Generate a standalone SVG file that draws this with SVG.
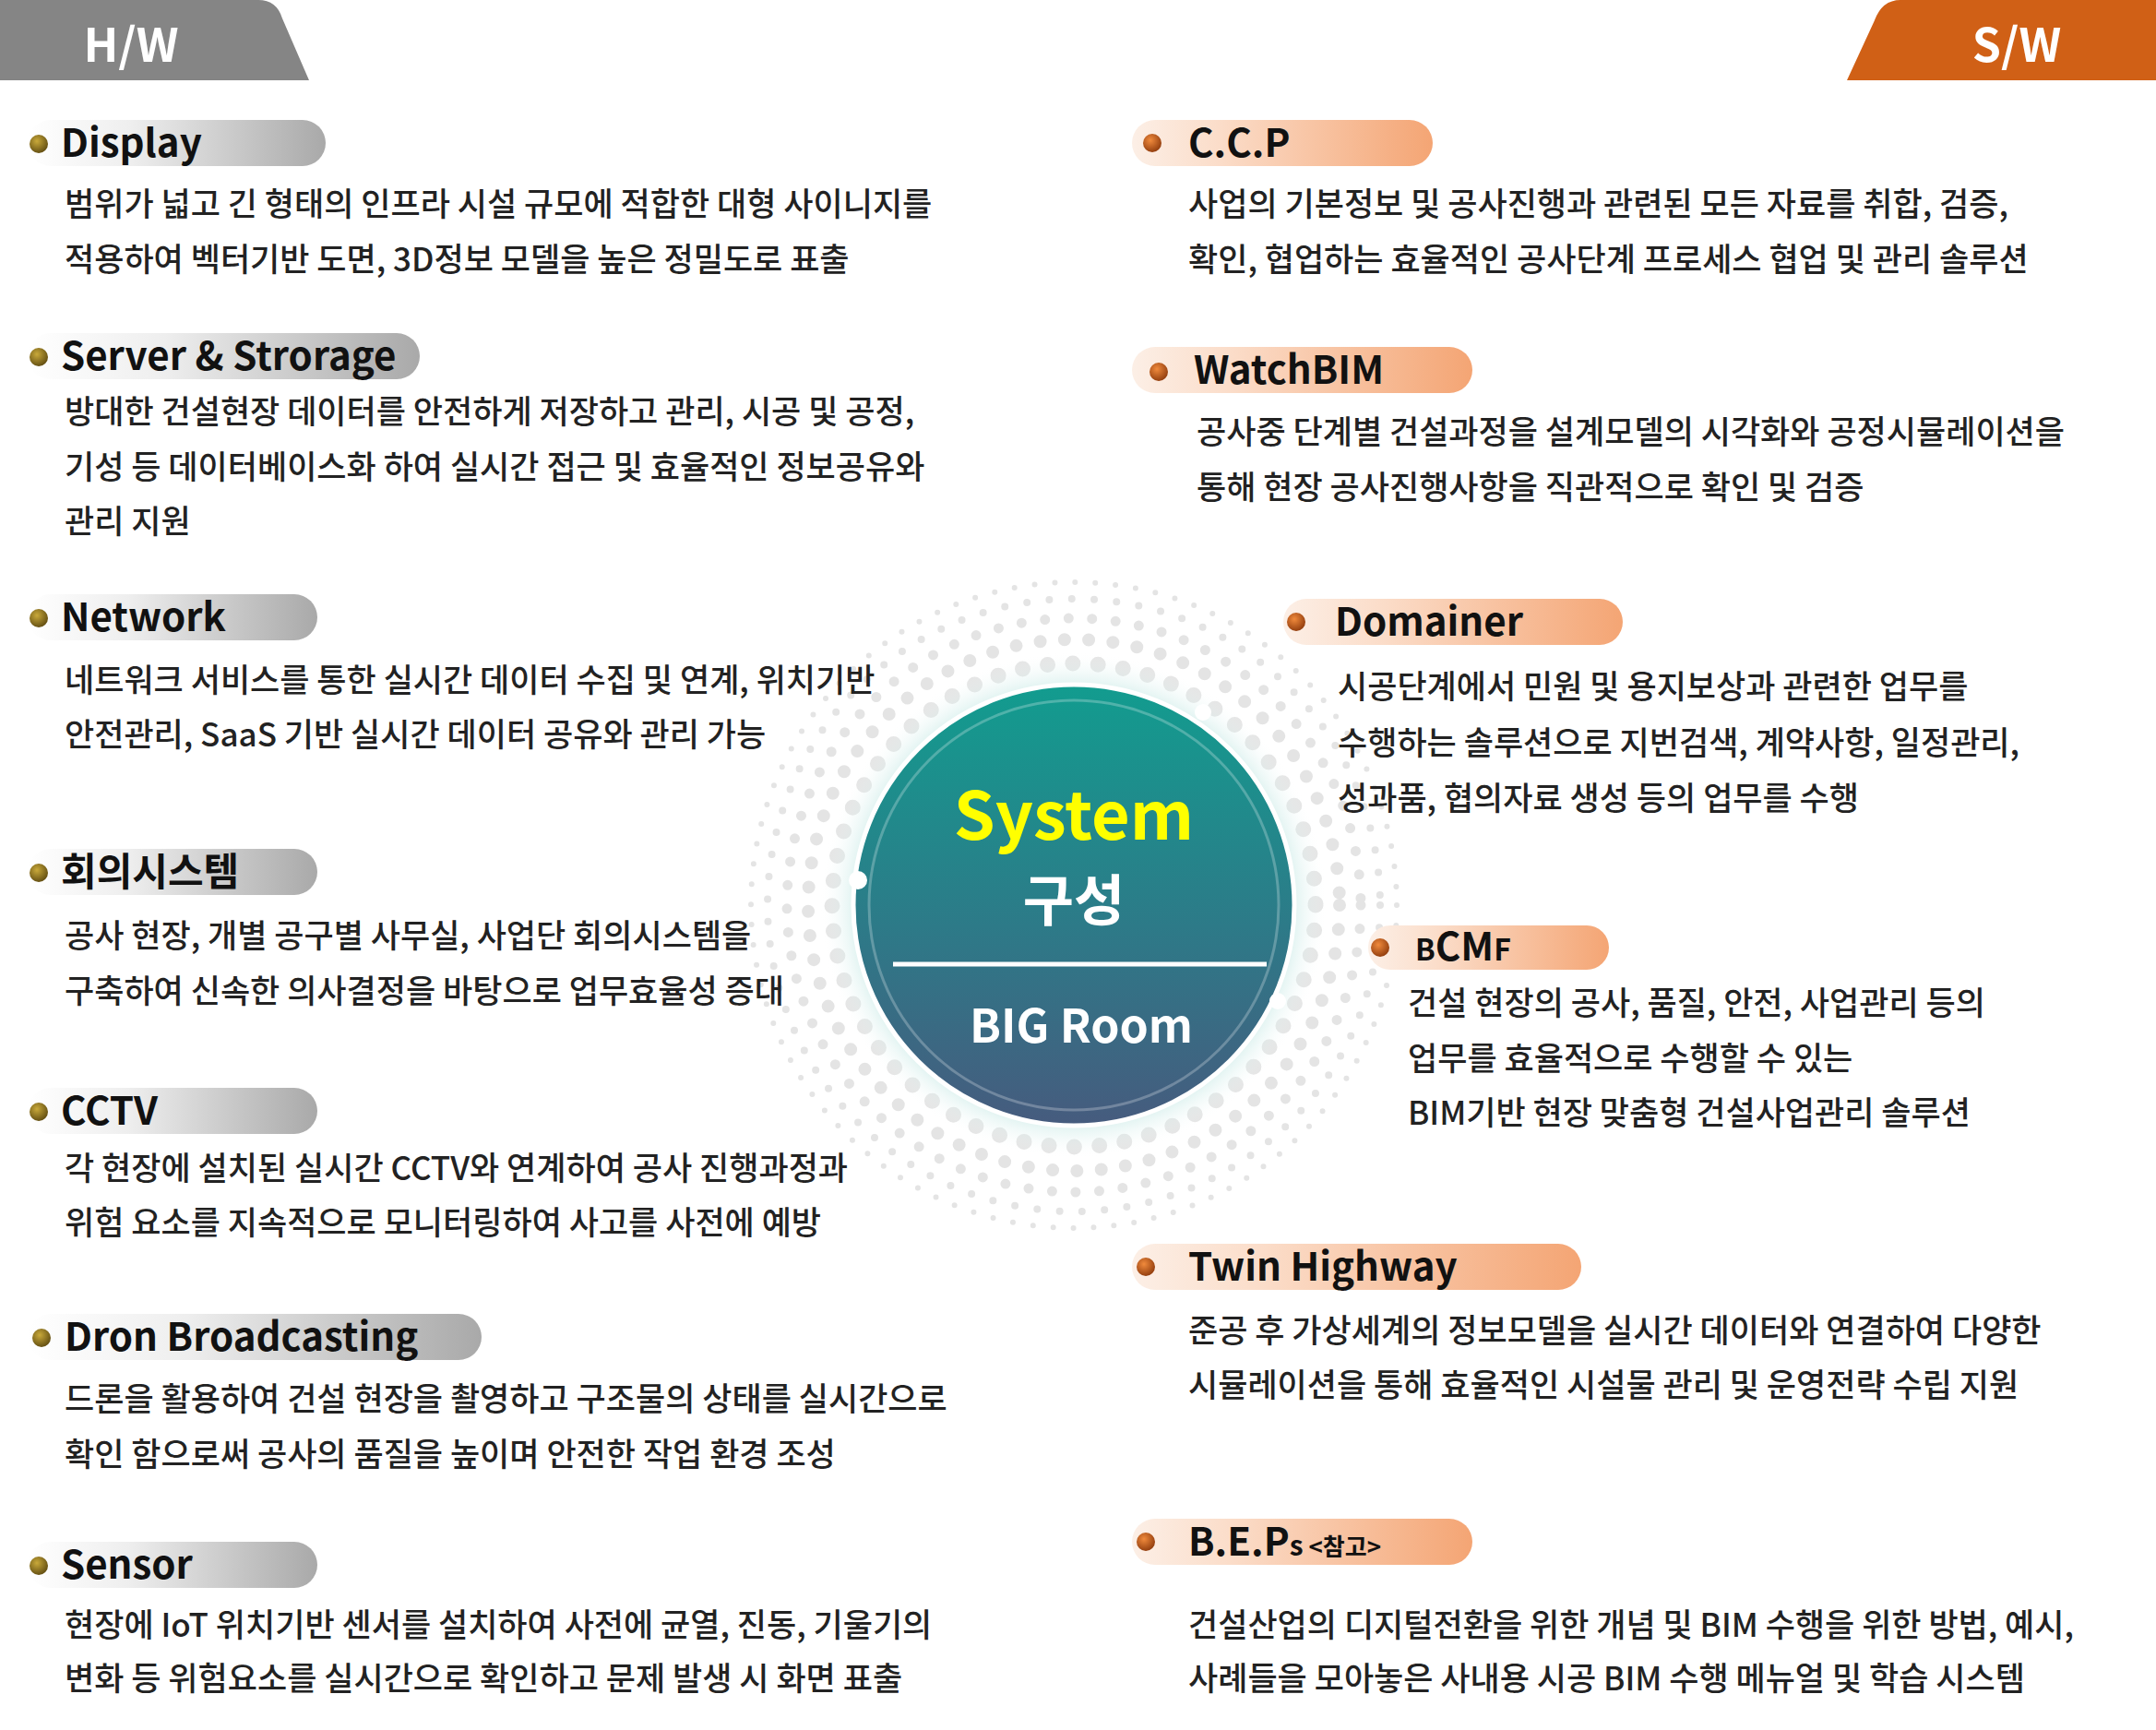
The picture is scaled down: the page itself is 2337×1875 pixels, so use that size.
<svg xmlns="http://www.w3.org/2000/svg" width="2337" height="1875" viewBox="0 0 2337 1875">
<defs>
<linearGradient id="gp" x1="0" x2="1" y1="0" y2="0"><stop offset="0" stop-color="#ffffff"/><stop offset="0.35" stop-color="#eeeeee"/><stop offset="1" stop-color="#a9a9a9"/></linearGradient>
<linearGradient id="op" x1="0" x2="1" y1="0" y2="0"><stop offset="0" stop-color="#fcefe6"/><stop offset="0.3" stop-color="#fbdcc8"/><stop offset="1" stop-color="#f4a574"/></linearGradient>
<radialGradient id="gb" cx="0.4" cy="0.35" r="0.7"><stop offset="0" stop-color="#c9a93a"/><stop offset="1" stop-color="#5e4a10"/></radialGradient>
<radialGradient id="ob" cx="0.4" cy="0.35" r="0.7"><stop offset="0" stop-color="#f08a3c"/><stop offset="1" stop-color="#8e3a0c"/></radialGradient>
<linearGradient id="cg" x1="0" x2="0" y1="0" y2="1"><stop offset="0" stop-color="#129c8f"/><stop offset="0.55" stop-color="#2d7a88"/><stop offset="1" stop-color="#465b7e"/></linearGradient>
<radialGradient id="glow"><stop offset="0.8" stop-color="#a6dcd6" stop-opacity="0.8"/><stop offset="1" stop-color="#ffffff" stop-opacity="0"/></radialGradient>
<radialGradient id="halo"><stop offset="0.6" stop-color="#ffffff" stop-opacity="0"/><stop offset="0.75" stop-color="#ffffff" stop-opacity="0"/><stop offset="1" stop-color="#ffffff" stop-opacity="1"/></radialGradient>
</defs>
<style>
.lb{font-family:"Noto Sans CJK KR","Noto Sans",sans-serif;font-weight:700;font-size:42px;fill:#111}
.bd{font-family:"Noto Sans CJK KR","Noto Sans",sans-serif;font-weight:500;font-size:35px;fill:#222}
.tab{font-family:"Noto Sans CJK KR","Noto Sans",sans-serif;font-weight:700;font-size:50px;fill:#fff}
.dr{fill:none;stroke:#e4e4e4;stroke-linecap:round}
</style>
<rect width="2337" height="1875" fill="#fff"/>
<g id="hw"><path d="M0 0 H280 Q300 0 306 20 L335 87 H0 Z" fill="#858585"/><text class="tab" x="142" y="67" text-anchor="middle">H/W</text></g>
<g id="sw"><path d="M2337 0 H2060 Q2040 0 2032 22 L2002 87 H2337 Z" fill="#d06016"/><text class="tab" x="2186" y="67" text-anchor="middle">S/W</text></g>

<g id="center">
<g>
<circle class="dr" cx="1164" cy="981" r="262" stroke-width="17" stroke-dasharray="0 27.4"/>
<circle class="dr" cx="1164" cy="981" r="288" stroke-width="14" stroke-dasharray="0 26.4"/>
<circle class="dr" cx="1164" cy="981" r="311" stroke-width="11" stroke-dasharray="0 25.6"/>
<circle class="dr" cx="1164" cy="981" r="332" stroke-width="8" stroke-dasharray="0 24.4"/>
<circle class="dr" cx="1164" cy="981" r="350" stroke-width="6" stroke-dasharray="0 22"/>
</g>
<circle cx="1164" cy="981" r="275" fill="url(#glow)"/>
<circle cx="1164" cy="981" r="239" fill="url(#cg)" stroke="#fff" stroke-width="5"/>
<circle cx="1164" cy="981" r="222" fill="none" stroke="#fff" stroke-opacity="0.25" stroke-width="3"/>
<circle cx="1304" cy="772" r="9" fill="#fff"/>
<circle cx="930" cy="954" r="10" fill="#fff"/>
<circle cx="1385" cy="1085" r="9" fill="#fff"/>
<text x="1164" y="910" text-anchor="middle" style="font-family:'Noto Sans CJK KR','Noto Sans',sans-serif;font-weight:700;font-size:72px;fill:#ffff00">System</text>
<text x="1164" y="998" text-anchor="middle" style="font-family:'Noto Sans CJK KR',sans-serif;font-weight:700;font-size:60px;fill:#fff">구성</text>
<line x1="968" y1="1045" x2="1373" y2="1045" stroke="#fff" stroke-width="5"/>
<text x="1172" y="1130" text-anchor="middle" style="font-family:'Noto Sans CJK KR','Noto Sans',sans-serif;font-weight:700;font-size:50px;fill:#fff">BIG Room</text>
</g>

<g id="display"><rect x="30" y="130" width="323" height="50" rx="25" fill="url(#gp)"/><circle cx="42" cy="156" r="10" fill="url(#gb)"/><text class="lb" x="66" y="170">Display</text>
<text class="bd" x="70" y="234">범위가 넓고 긴 형태의 인프라 시설 규모에 적합한 대형 사이니지를</text><text class="bd" x="70" y="294">적용하여 벡터기반 도면, 3D정보 모델을 높은 정밀도로 표출</text></g>
<g id="server"><rect x="30" y="361" width="425" height="50" rx="25" fill="url(#gp)"/><circle cx="42" cy="387" r="10" fill="url(#gb)"/><text class="lb" x="66" y="401">Server &amp; Strorage</text>
<text class="bd" x="70" y="459">방대한 건설현장 데이터를 안전하게 저장하고 관리, 시공 및 공정,</text><text class="bd" x="70" y="519">기성 등 데이터베이스화 하여 실시간 접근 및 효율적인 정보공유와</text><text class="bd" x="70" y="578">관리 지원</text></g>
<g id="network"><rect x="30" y="644" width="314" height="50" rx="25" fill="url(#gp)"/><circle cx="42" cy="670" r="10" fill="url(#gb)"/><text class="lb" x="66" y="684">Network</text>
<text class="bd" x="70" y="750">네트워크 서비스를 통한 실시간 데이터 수집 및 연계, 위치기반</text><text class="bd" x="70" y="809">안전관리, SaaS 기반 실시간 데이터 공유와 관리 가능</text></g>
<g id="meeting"><rect x="30" y="920" width="314" height="50" rx="25" fill="url(#gp)"/><circle cx="42" cy="946" r="10" fill="url(#gb)"/><text class="lb" x="66" y="960">회의시스템</text>
<text class="bd" x="70" y="1027">공사 현장, 개별 공구별 사무실, 사업단 회의시스템을</text><text class="bd" x="70" y="1087">구축하여 신속한 의사결정을 바탕으로 업무효율성 증대</text></g>
<g id="cctv"><rect x="30" y="1179" width="314" height="50" rx="25" fill="url(#gp)"/><circle cx="42" cy="1205" r="10" fill="url(#gb)"/><text class="lb" x="66" y="1219">CCTV</text>
<text class="bd" x="70" y="1279">각 현장에 설치된 실시간 CCTV와 연계하여 공사 진행과정과</text><text class="bd" x="70" y="1338">위험 요소를 지속적으로 모니터링하여 사고를 사전에 예방</text></g>
<g id="dron"><rect x="30" y="1424" width="492" height="50" rx="25" fill="url(#gp)"/><circle cx="45" cy="1450" r="10" fill="url(#gb)"/><text class="lb" x="70" y="1464">Dron Broadcasting</text>
<text class="bd" x="70" y="1529">드론을 활용하여 건설 현장을 촬영하고 구조물의 상태를 실시간으로</text><text class="bd" x="70" y="1589">확인 함으로써 공사의 품질을 높이며 안전한 작업 환경 조성</text></g>
<g id="sensor"><rect x="30" y="1671" width="314" height="50" rx="25" fill="url(#gp)"/><circle cx="42" cy="1697" r="10" fill="url(#gb)"/><text class="lb" x="66" y="1711">Sensor</text>
<text class="bd" x="70" y="1774">현장에 IoT 위치기반 센서를 설치하여 사전에 균열, 진동, 기울기의</text><text class="bd" x="70" y="1832">변화 등 위험요소를 실시간으로 확인하고 문제 발생 시 화면 표출</text></g>

<g id="ccp"><rect x="1227" y="130" width="326" height="50" rx="25" fill="url(#op)"/><circle cx="1249" cy="155" r="10" fill="url(#ob)"/><text class="lb" x="1288" y="170">C.C.P</text>
<text class="bd" x="1288" y="234">사업의 기본정보 및 공사진행과 관련된 모든 자료를 취합, 검증,</text><text class="bd" x="1288" y="294">확인, 협업하는 효율적인 공사단계 프로세스  협업 및 관리 솔루션</text></g>
<g id="watchbim"><rect x="1227" y="376" width="369" height="50" rx="25" fill="url(#op)"/><circle cx="1256" cy="403" r="10" fill="url(#ob)"/><text class="lb" x="1294" y="416">WatchBIM</text>
<text class="bd" x="1297" y="481">공사중 단계별 건설과정을 설계모델의 시각화와 공정시뮬레이션을</text><text class="bd" x="1297" y="541">통해 현장 공사진행사항을 직관적으로 확인 및 검증</text></g>
<g id="domainer"><rect x="1391" y="649" width="368" height="50" rx="25" fill="url(#op)"/><circle cx="1405" cy="674" r="10" fill="url(#ob)"/><text class="lb" x="1447" y="689">Domainer</text>
<text class="bd" x="1450" y="757">시공단계에서 민원 및 용지보상과 관련한 업무를</text><text class="bd" x="1450" y="818">수행하는 솔루션으로 지번검색, 계약사항, 일정관리,</text><text class="bd" x="1450" y="878">성과품, 협의자료 생성 등의 업무를 수행</text></g>
<g id="bcmf"><rect x="1483" y="1003" width="261" height="48" rx="24" fill="url(#op)"/><circle cx="1496" cy="1027" r="10" fill="url(#ob)"/><text class="lb" x="1534" y="1041"><tspan font-size="32">B</tspan>CM<tspan font-size="32">F</tspan></text>
<text class="bd" x="1526" y="1100">건설 현장의 공사, 품질, 안전, 사업관리 등의</text><text class="bd" x="1526" y="1160">업무를 효율적으로 수행할 수 있는</text><text class="bd" x="1526" y="1219">BIM기반 현장 맞춤형 건설사업관리 솔루션</text></g>
<g id="twin"><rect x="1227" y="1348" width="487" height="50" rx="25" fill="url(#op)"/><circle cx="1242" cy="1373" r="10" fill="url(#ob)"/><text class="lb" x="1288" y="1388">Twin Highway</text>
<text class="bd" x="1288" y="1455">준공 후 가상세계의 정보모델을 실시간 데이터와 연결하여 다양한</text><text class="bd" x="1288" y="1514">시뮬레이션을 통해 효율적인 시설물 관리 및 운영전략 수립 지원</text></g>
<g id="beps"><rect x="1227" y="1646" width="369" height="50" rx="25" fill="url(#op)"/><circle cx="1242" cy="1671" r="10" fill="url(#ob)"/><text class="lb" x="1288" y="1686">B.E.P<tspan font-size="30">s</tspan><tspan font-size="26"> &lt;참고&gt;</tspan></text>
<text class="bd" x="1288" y="1774">건설산업의 디지털전환을 위한 개념 및 BIM 수행을 위한 방법, 예시,</text><text class="bd" x="1288" y="1832">사례들을 모아놓은 사내용 시공 BIM 수행 메뉴얼 및 학습 시스템</text></g>
<g id="connectors"/>
</svg>
